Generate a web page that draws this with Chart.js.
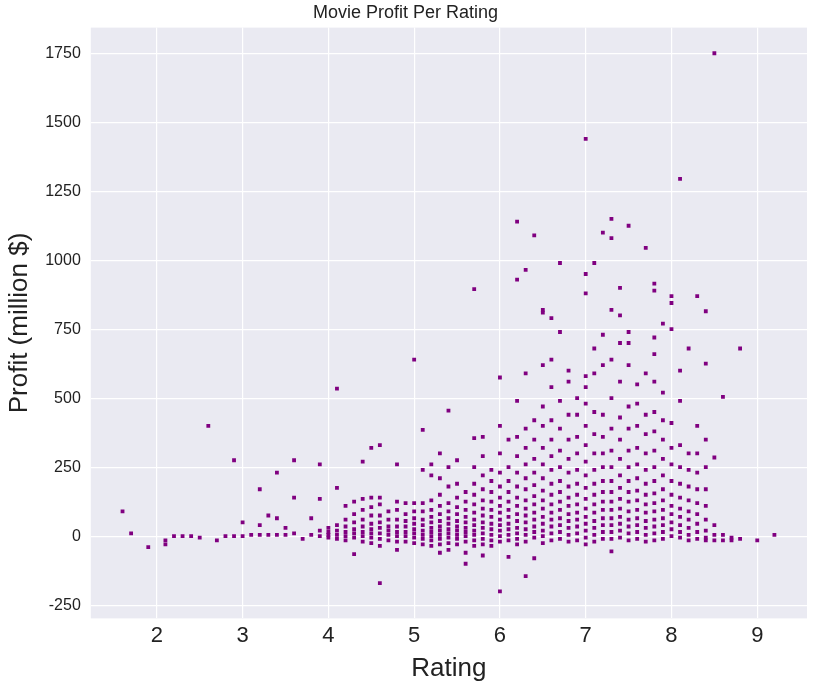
<!DOCTYPE html>
<html>
<head>
<meta charset="utf-8">
<script src="https://cdn.jsdelivr.net/npm/chart.js@4.4.0/dist/chart.umd.min.js"></script>
<style>
  html, body { margin: 0; padding: 0; background: #fff; }
  #wrap { width: 813px; height: 688px; }
</style>
</head>
<body>
<div id="wrap"><canvas id="chart"></canvas></div>
<script>
// ratings of each column of points, and the profits (million $) at that rating
const ratings = [1.6, 1.7, 1.9, 2.1, 2.2, 2.3, 2.4, 2.5, 2.6, 2.7, 2.8, 2.9, 3.0, 3.1, 3.2, 3.3, 3.4, 3.5, 3.6, 3.7, 3.8, 3.9,
  4.0, 4.1, 4.2, 4.3, 4.4, 4.5, 4.6, 4.7, 4.8, 4.9, 5.0, 5.1, 5.2, 5.3, 5.4, 5.5, 5.6, 5.7, 5.8, 5.9,
  6.0, 6.1, 6.2, 6.3, 6.4, 6.5, 6.6, 6.7, 6.8, 6.9, 7.0, 7.1, 7.2, 7.3, 7.4, 7.5, 7.6, 7.7, 7.8, 7.9,
  8.0, 8.1, 8.2, 8.3, 8.4, 8.5, 8.6, 8.7, 8.8, 9.0, 9.2];
const profits = [
  [90], [10], [-40], [-30, -15], [0], [0], [0], [-5], [400], [-15], [0], [275, 0], [50, 0], [5], [170, 40, 5], [75, 5], [230, 65, 5], [30, 5], [275, 140, 10], [-10], [65, 5], [260, 135, 20, 0],
  [30, 15, 5, -5], [535, 175, 40, 20, 5, -10], [110, 60, 35, 15, 0, -15], [125, 80, 50, 25, 10, -5, -65], [270, 135, 95, 60, 35, 15, 0, -20],
  [320, 140, 105, 75, 45, 25, 10, -5, -25], [330, 140, 115, 75, 50, 30, 10, -10, -35, -170], [90, 60, 35, 20, 5, -15], [260, 125, 95, 60, 35, 15, 0, -20, -50],
  [120, 80, 55, 35, 15, 0, -20], [640, 120, 90, 65, 45, 25, 10, -5, -25], [385, 240, 120, 90, 60, 40, 20, 5, -10, -30],
  [260, 220, 130, 95, 70, 50, 30, 15, 0, -15, -35], [300, 210, 150, 110, 80, 55, 35, 20, 5, -10, -30, -60], [455, 250, 180, 120, 90, 65, 45, 25, 10, -5, -25, -50],
  [275, 190, 140, 105, 80, 55, 35, 20, 5, -10, -30], [160, 125, 95, 70, 50, 30, 15, 0, -20, -60, -100], [895, 355, 250, 190, 150, 115, 85, 60, 40, 20, 5, -15, -35],
  [360, 290, 220, 170, 130, 100, 75, 50, 30, 10, -10, -30, -70], [240, 200, 160, 125, 95, 70, 45, 25, 5, -15, -35],
  [575, 400, 300, 230, 180, 140, 110, 85, 60, 40, 20, 0, -20, -200], [350, 250, 200, 160, 125, 95, 70, 45, 25, 5, -15, -75],
  [1140, 930, 490, 360, 290, 230, 180, 140, 110, 80, 55, 30, 10, -10, -30], [965, 590, 390, 320, 260, 210, 170, 130, 100, 75, 50, 25, 5, -20, -145],
  [1090, 420, 350, 280, 230, 185, 145, 115, 85, 60, 35, 15, -5, -80], [820, 810, 620, 470, 400, 320, 260, 210, 165, 130, 100, 70, 45, 20, 0, -25],
  [790, 640, 540, 420, 350, 290, 240, 190, 150, 115, 85, 60, 35, 10, -15], [990, 740, 490, 390, 310, 250, 200, 160, 125, 95, 65, 40, 15, -10],
  [600, 560, 440, 350, 280, 230, 180, 140, 110, 80, 55, 30, 5, -20], [500, 440, 360, 300, 240, 190, 150, 115, 85, 60, 35, 10, -15],
  [1440, 950, 880, 580, 540, 480, 400, 330, 270, 220, 175, 135, 100, 70, 45, 20, -5, -30], [990, 680, 590, 450, 370, 300, 240, 190, 150, 115, 85, 55, 30, 5, -20],
  [1100, 730, 620, 440, 360, 300, 250, 200, 160, 125, 95, 65, 40, 15, -10], [1150, 1080, 820, 640, 500, 390, 310, 250, 200, 160, 125, 95, 65, 40, 15, -10, -55],
  [900, 800, 700, 560, 430, 350, 280, 220, 175, 135, 100, 70, 45, 20, -5], [1125, 740, 700, 620, 470, 390, 310, 250, 200, 160, 125, 90, 60, 35, 10, -15],
  [550, 480, 400, 320, 260, 210, 165, 130, 95, 65, 40, 15, -10], [1045, 590, 440, 370, 300, 240, 190, 150, 115, 85, 55, 30, 5, -20],
  [915, 890, 720, 660, 560, 450, 380, 310, 250, 200, 155, 120, 90, 60, 35, 10, -15], [770, 520, 420, 350, 280, 220, 170, 130, 95, 65, 40, 15, -10],
  [870, 845, 750, 410, 320, 260, 200, 150, 110, 80, 50, 25, 0], [1295, 600, 490, 330, 250, 190, 140, 100, 70, 40, 15, -5],
  [680, 300, 240, 180, 130, 90, 60, 30, 5, -15], [870, 400, 300, 230, 170, 120, 80, 45, 15, -10],
  [815, 625, 350, 250, 170, 110, 60, 20, -5, -15], [1750, 285, 40, 5, -15], [505, 5, -15], [-5, -15], [680, -10], [-15], [5]
];
const yTicks = [-250, 0, 250, 500, 750, 1000, 1250, 1500, 1750];
const xTicks = [2, 3, 4, 5, 6, 7, 8, 9];

const points = [];
ratings.forEach((r, i) => profits[i].forEach(p => points.push({ x: r, y: p })));

const bgPlugin = {
  id: 'bg',
  beforeDraw(chart) {
    const { ctx, chartArea: a } = chart;
    ctx.save();
    ctx.fillStyle = '#EAEAF2';
    ctx.fillRect(a.left, a.top, a.right - a.left, a.bottom - a.top);
    ctx.restore();
  }
};

new Chart(document.getElementById('chart'), {
  type: 'scatter',
  data: { datasets: [{ data: points, backgroundColor: '#800080', borderColor: '#800080',
    pointStyle: 'rect', pointRadius: 2.7, borderWidth: 0 }] },
  options: {
    responsive: true, maintainAspectRatio: false, animation: false,
    layout: { padding: { right: 6, top: 0, left: 4, bottom: 4 } },
    plugins: {
      legend: { display: false }, tooltip: { enabled: false },
      title: { display: true, text: 'Movie Profit Per Rating', color: '#222',
        font: { family: 'Arial, Liberation Sans', size: 18, weight: 'normal' }, padding: { top: 2, bottom: 4 } }
    },
    scales: {
      x: {
        type: 'linear', min: 1.23, max: 9.58,
        afterBuildTicks: s => { s.ticks = xTicks.map(v => ({ value: v })); },
        grid: { color: '#fff', lineWidth: 1.2, drawTicks: false },
        border: { display: false },
        ticks: { color: '#222', padding: 4, font: { family: 'Arial, Liberation Sans', size: 22 } },
        title: { display: true, text: 'Rating', color: '#222', padding: 0,
          font: { family: 'Arial, Liberation Sans', size: 26 } }
      },
      y: {
        min: -298, max: 1843,
        afterBuildTicks: s => { s.ticks = yTicks.map(v => ({ value: v })); },
        grid: { color: '#fff', lineWidth: 1.2, drawTicks: false },
        border: { display: false },
        ticks: { color: '#222', padding: 10, callback: v => String(v),
          font: { family: 'Arial, Liberation Sans', size: 16 } },
        title: { display: true, text: 'Profit (million $)', color: '#222', padding: 0,
          font: { family: 'Arial, Liberation Sans', size: 26 } }
      }
    }
  },
  plugins: [bgPlugin]
});
</script>
</body>
</html>
